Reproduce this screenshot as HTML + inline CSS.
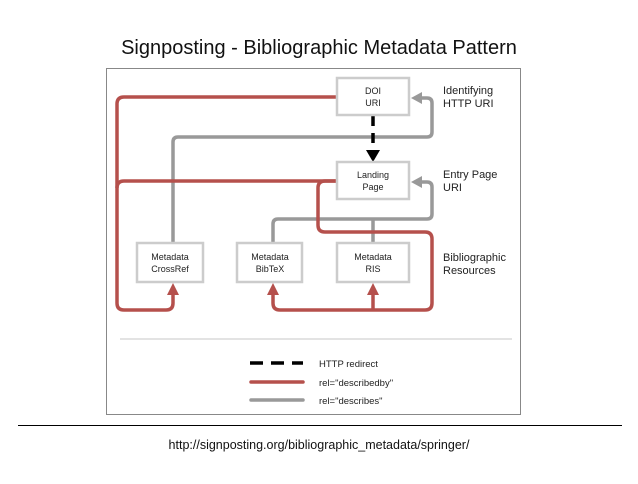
<!DOCTYPE html>
<html><head><style>
body{margin:0;background:#fff;width:638px;height:479px;overflow:hidden;font-family:"Liberation Sans",sans-serif}
</style></head><body>
<svg width="638" height="479" xmlns="http://www.w3.org/2000/svg" font-family="Liberation Sans, sans-serif">
<text x="319" y="54" font-size="20" text-anchor="middle" fill="#111">Signposting - Bibliographic Metadata Pattern</text>
<rect x="106.5" y="68.5" width="414" height="346" fill="#fff" stroke="#888" stroke-width="1"/>
<g fill="none" stroke-linejoin="round">
<!-- gray -->
<path d="M173 243 V142 Q173 137 178 137 H427 Q432 137 432 132 V103 Q432 98 427 98 H420" stroke="#999" stroke-width="3.5"/>
<path d="M273 243 V224 Q273 219 278 219 H427 Q432 219 432 214 V187 Q432 182 427 182 H420" stroke="#999" stroke-width="3.5"/>
<path d="M373 243 V219" stroke="#999" stroke-width="3.5"/>
<!-- red -->
<path d="M337 97 H124 Q117 97 117 104 V303 Q117 310 124 310 H166 Q173 310 173 303 V292" stroke="#b5504c" stroke-width="3.5"/>
<path d="M337 181 H124 Q117 181 117 188" stroke="#b5504c" stroke-width="3.5"/>
<path d="M337 181 H325 Q318 181 318 188 V225 Q318 232 325 232 H425 Q432 232 432 239 V303 Q432 310 425 310 H280 Q273 310 273 303 V292" stroke="#b5504c" stroke-width="3.5"/>
<path d="M373 310 V292" stroke="#b5504c" stroke-width="3.5"/>
<!-- black dashed -->
<path d="M373 116 V150" stroke="#000" stroke-width="3.5" stroke-dasharray="10,7"/>
</g>
<polygon points="366,150 380,150 373,162" fill="#000"/>
<polygon points="411,98 422,92 422,104" fill="#999"/>
<polygon points="411,182 422,176 422,188" fill="#999"/>
<polygon points="173,283 167,295 179,295" fill="#b5504c"/>
<polygon points="273,283 267,295 279,295" fill="#b5504c"/>
<polygon points="373,283 367,295 379,295" fill="#b5504c"/>
<g fill="#fff" stroke="#ccc" stroke-width="2.5">
<rect x="337" y="78" width="72" height="37"/>
<rect x="337" y="162" width="72" height="37"/>
<rect x="137" y="243" width="66" height="39"/>
<rect x="237" y="243" width="65" height="39"/>
<rect x="337" y="243" width="72" height="39"/>
</g>
<g font-size="9" text-anchor="middle" fill="#222">
<text x="373" y="94">DOI</text><text x="373" y="106">URI</text>
<text x="373" y="178">Landing</text><text x="373" y="190">Page</text>
<text x="170" y="260">Metadata</text><text x="170" y="272">CrossRef</text>
<text x="270" y="260">Metadata</text><text x="270" y="272">BibTeX</text>
<text x="373" y="260">Metadata</text><text x="373" y="272">RIS</text>
</g>
<g font-size="11" fill="#222">
<text x="443" y="94">Identifying</text><text x="443" y="107">HTTP URI</text>
<text x="443" y="178">Entry Page</text><text x="443" y="191">URI</text>
<text x="443" y="261">Bibliographic</text><text x="443" y="274">Resources</text>
</g>
<line x1="120" y1="339" x2="512" y2="339" stroke="#e3e3e3" stroke-width="2"/>
<line x1="250" y1="363" x2="303" y2="363" stroke="#000" stroke-width="3.5" stroke-dasharray="13,8"/>
<line x1="251" y1="382" x2="303" y2="382" stroke="#b5504c" stroke-width="3.5" stroke-linecap="round"/>
<line x1="251" y1="400" x2="303" y2="400" stroke="#999" stroke-width="3.5" stroke-linecap="round"/>
<g font-size="9.5" fill="#222">
<text x="319" y="367">HTTP redirect</text>
<text x="319" y="386">rel="describedby"</text>
<text x="319" y="404">rel="describes"</text>
</g>
<line x1="18" y1="425.5" x2="622" y2="425.5" stroke="#000" stroke-width="1"/>
<text x="319" y="449" font-size="12.5" text-anchor="middle" fill="#111">http://signposting.org/bibliographic_metadata/springer/</text>
</svg>
</body></html>
